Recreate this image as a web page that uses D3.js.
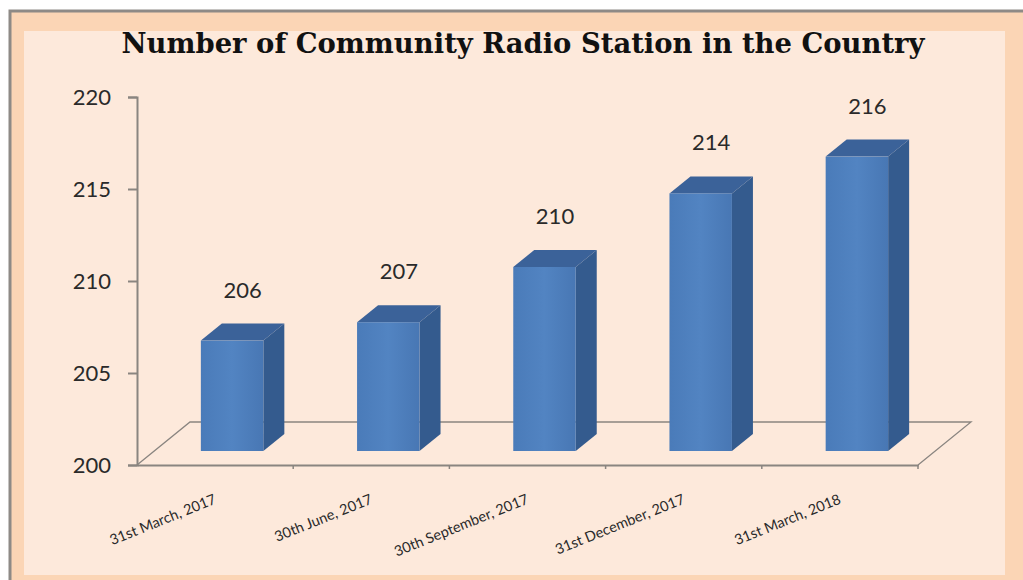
<!DOCTYPE html>
<html>
<head>
<meta charset="utf-8">
<script src="https://cdn.jsdelivr.net/npm/d3@7"></script>
<style>
  body { margin: 0; background: #fff; }
  svg { display: block; }
</style>
</head>
<body>
<svg width="1023" height="580"></svg>
<script>
const svg = d3.select('svg');

const width = +svg.attr('width');
const height = +svg.attr('height');

// data
const categories = ['31st March, 2017', '30th June, 2017', '30th September, 2017', '31st December, 2017', '31st March, 2018'];
const stations = [206, 207, 210, 214, 216];
const yTicks = [200, 205, 210, 215, 220];

const title = 'Number of Community Radio Station in the Country';

// frame
svg.append('rect')
    .attr('x', 10).attr('y', 11)
    .attr('width', width).attr('height', height)
    .attr('fill', '#fbd5b5')
    .attr('stroke', '#8e8a86')
    .attr('stroke-width', 3);

svg.append('rect')
    .attr('x', 24).attr('y', 31)
    .attr('width', 981).attr('height', 544)
    .attr('fill', '#fde9db');

svg.append('text')
    .attr('x', 523).attr('y', 53)
    .attr('text-anchor', 'middle')
    .attr('font-family', 'DejaVu Serif Condensed, DejaVu Serif')
    .attr('font-stretch', 'condensed')
    .attr('font-weight', 'bold')
    .attr('font-size', 28)
    .attr('textLength', 803)
    .attr('lengthAdjust', 'spacingAndGlyphs')
    .attr('fill', '#111')
    .text(title);

// plot geometry (floor front edge + 3d offsets)
const x0 = 137, x1 = 918;
const floorDepth = { dx: 53, dy: -43 };
const barShift = { dx: 17, dy: -14 };
const barDepth = { dx: 21, dy: -17 };

const xScale = d3.scaleBand()
    .domain(categories)
    .range([x0, x1])
    .padding(0);

const yScale = d3.scaleLinear()
    .domain([200, 220])
    .range([465, 97]);

const barW = xScale.bandwidth() * 0.4;
const lineColor = '#8a8580';

// floor
const fy = yScale(200);
svg.append('path')
    .attr('d', `M${x0},${fy} L${x0 + floorDepth.dx},${fy + floorDepth.dy} L${x1 + floorDepth.dx},${fy + floorDepth.dy} L${x1},${fy}`)
    .attr('fill', 'none')
    .attr('stroke', lineColor)
    .attr('stroke-width', 1.3);

// y axis
const yAxis = svg.append('g')
    .attr('transform', `translate(${x0},0)`)
    .call(d3.axisLeft(yScale).tickValues(yTicks).tickSize(9).tickPadding(17));
yAxis.select('.domain').attr('stroke', lineColor).attr('stroke-width', 2);
yAxis.selectAll('.tick line').attr('stroke', lineColor).attr('stroke-width', 2);
yAxis.selectAll('.tick text')
    .attr('font-family', 'Lato')
    .attr('font-size', 22)
    .attr('fill', '#2a2a2a');

// x axis (front floor edge)
const xAxis = svg.append('g')
    .attr('transform', `translate(0,${fy})`)
    .call(d3.axisBottom(xScale).tickSize(0).tickFormat(''));
xAxis.select('.domain').attr('stroke', lineColor).attr('stroke-width', 2);
xAxis.selectAll('.edge')
    .data(categories)
    .enter().append('line')
        .attr('x1', d => xScale(d) + xScale.step())
        .attr('x2', d => xScale(d) + xScale.step())
        .attr('y1', 0).attr('y2', 4)
        .attr('stroke', lineColor)
        .attr('stroke-width', 1.5);

// bars
const bars = svg.selectAll('.bar').data(stations).enter().append('g').attr('class', 'bar');
const barLeft = (d, i) => xScale(categories[i]) + xScale.bandwidth() / 2 - barW / 2 + barShift.dx;
const barTop = d => yScale(d) + barShift.dy;
const barBottom = yScale(200) + barShift.dy;

const grad = svg.append('defs').append('linearGradient')
    .attr('id', 'front').attr('x1', 0).attr('x2', 1).attr('y1', 0).attr('y2', 0);
grad.append('stop').attr('offset', 0).attr('stop-color', '#4a7bb9');
grad.append('stop').attr('offset', 0.5).attr('stop-color', '#5284c2');
grad.append('stop').attr('offset', 1).attr('stop-color', '#4877b4');

bars.append('path')
    .attr('d', (d, i) => {
        const l = barLeft(d, i) + barW, t = barTop(d);
        return `M${l},${t} L${l + barDepth.dx},${t + barDepth.dy} L${l + barDepth.dx},${barBottom + barDepth.dy} L${l},${barBottom} Z`;
    })
    .attr('fill', '#345b8e');

bars.append('path')
    .attr('d', (d, i) => {
        const l = barLeft(d, i), t = barTop(d);
        return `M${l},${t} L${l + barDepth.dx},${t + barDepth.dy} L${l + barW + barDepth.dx},${t + barDepth.dy} L${l + barW},${t} Z`;
    })
    .attr('fill', '#3b6299');

bars.append('rect')
    .attr('x', barLeft)
    .attr('y', barTop)
    .attr('width', barW)
    .attr('height', d => barBottom - barTop(d))
    .attr('fill', 'url(#front)');

bars.append('text')
    .attr('x', (d, i) => barLeft(d, i) + barW / 2 + barDepth.dx / 2)
    .attr('y', d => barTop(d) - 43)
    .attr('text-anchor', 'middle')
    .attr('font-family', 'Lato')
    .attr('font-size', 22)
    .attr('fill', '#2a2a2a')
    .text(d => d);

// category labels
svg.selectAll('.cat').data(categories).enter().append('text')
    .attr('class', 'cat')
    .attr('transform', d => `translate(${xScale(d) + xScale.bandwidth() / 2 + 2},503) rotate(-22)`)
    .attr('text-anchor', 'end')
    .attr('font-family', 'Lato')
    .attr('font-size', 14.5)
    .attr('fill', '#2a2a2a')
    .text(d => d);
</script>
</body>
</html>
